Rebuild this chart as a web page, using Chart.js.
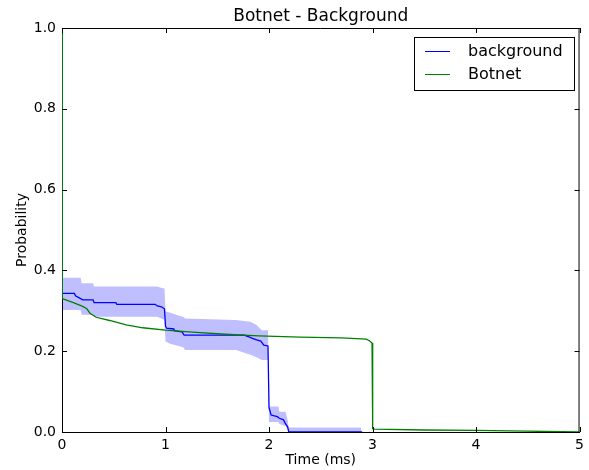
<!DOCTYPE html>
<html>
<head>
<meta charset="utf-8">
<script src="https://cdn.jsdelivr.net/npm/chart.js@4.4.0/dist/chart.umd.min.js"></script>
<style>
  html, body { margin: 0; padding: 0; background: #fff; }
  #wrap { width: 589px; height: 470px; }
</style>
</head>
<body>
<div id="wrap"><canvas id="myChart" width="589" height="470"></canvas></div>
<script>
// background series (mean line)
var bgX = [0, 0.003, 0.12, 0.13, 0.18, 0.2, 0.30, 0.31, 0.52, 0.53, 0.90, 0.92, 0.96, 0.99, 1.00, 1.01, 1.08, 1.09, 1.16, 1.18, 1.76, 1.80, 1.84, 1.88, 1.92, 1.95, 1.99, 2.00, 2.02, 2.08, 2.10, 2.14, 2.16, 2.18, 2.19, 2.9];
var bgY = [1.0, 0.343, 0.343, 0.337, 0.330, 0.327, 0.327, 0.320, 0.320, 0.316, 0.316, 0.312, 0.310, 0.305, 0.262, 0.257, 0.255, 0.250, 0.248, 0.240, 0.240, 0.236, 0.232, 0.228, 0.225, 0.215, 0.213, 0.060, 0.042, 0.038, 0.034, 0.030, 0.020, 0.013, 0.001, 0.0];

// background spread band
var bandX     = [0.003, 0.18, 0.19, 0.30, 0.31, 0.92, 0.97, 0.99, 1.00, 1.05, 1.10, 1.17, 1.19, 1.68, 1.82, 1.88, 1.93, 1.99, 2.00, 2.09, 2.10, 2.16, 2.18, 2.19, 2.89];
var bandUpper = [0.382, 0.382, 0.368, 0.368, 0.360, 0.360, 0.356, 0.356, 0.298, 0.295, 0.290, 0.285, 0.281, 0.277, 0.273, 0.265, 0.252, 0.252, 0.063, 0.063, 0.050, 0.050, 0.030, 0.011, 0.011];
var bandLower = [0.302, 0.302, 0.290, 0.290, 0.285, 0.285, 0.280, 0.278, 0.224, 0.218, 0.215, 0.210, 0.203, 0.203, 0.191, 0.185, 0.178, 0.178, 0.025, 0.025, 0.020, 0.015, 0.005, 0.0, 0.0];

// Botnet series
var botX = [0, 0.002, 0.004, 0.05, 0.11, 0.2, 0.24, 0.27, 0.33, 0.46, 0.62, 0.78, 1.0, 1.26, 1.58, 1.9, 2.3, 2.7, 2.94, 2.97, 2.995, 3.0, 3.003, 3.02, 3.5, 4.0, 4.5, 5.0];
var botY = [1.0, 0.645, 0.330, 0.326, 0.320, 0.311, 0.305, 0.294, 0.284, 0.276, 0.265, 0.258, 0.252, 0.247, 0.242, 0.238, 0.235, 0.233, 0.230, 0.226, 0.220, 0.146, 0.008, 0.007, 0.005, 0.004, 0.002, 0.0];

var xTicks = [0, 1, 2, 3, 4, 5];
var yTicks = [0.0, 0.2, 0.4, 0.6, 0.8, 1.0];

function pts(xs, ys) {
    return xs.map(function(x, i) { return {x: x, y: ys[i]}; });
}

// inward ticks on all four sides + top/right frame
var frameTicks = {
    id: 'frameTicks',
    afterDatasetsDraw: function(chart) {
        var ctx = chart.ctx, a = chart.chartArea;
        var xs = chart.scales.x, ys = chart.scales.y;
        ctx.save();
        ctx.strokeStyle = '#000';
        ctx.lineWidth = 1;
        ctx.beginPath();
        ctx.moveTo(a.left, a.top + 0.5);
        ctx.lineTo(a.right, a.top + 0.5);
        ctx.moveTo(a.right - 0.5, a.top);
        ctx.lineTo(a.right - 0.5, a.bottom);
        xTicks.forEach(function(v) {
            var px = Math.round(xs.getPixelForValue(v)) + 0.5;
            ctx.moveTo(px, a.bottom); ctx.lineTo(px, a.bottom - 5);
            ctx.moveTo(px, a.top); ctx.lineTo(px, a.top + 5);
        });
        yTicks.forEach(function(v) {
            var py = Math.round(ys.getPixelForValue(v)) + 0.5;
            ctx.moveTo(a.left, py); ctx.lineTo(a.left + 5, py);
            ctx.moveTo(a.right, py); ctx.lineTo(a.right - 5, py);
        });
        ctx.stroke();
        ctx.restore();
    }
};

// matplotlib-like legend box inside the plot
var boxLegend = {
    id: 'boxLegend',
    afterDraw: function(chart) {
        var ctx = chart.ctx;
        var items = chart.data.datasets.filter(function(d) { return d.showInLegend; });
        ctx.save();
        ctx.fillStyle = '#fff';
        ctx.fillRect(414, 37, 161, 54);
        ctx.strokeStyle = '#000';
        ctx.lineWidth = 1;
        ctx.strokeRect(414.5, 37.5, 160, 53);
        ctx.font = '16px "DejaVu Sans"';
        ctx.textBaseline = 'middle';
        items.forEach(function(d, i) {
            var y = 51.5 + i * 23;
            ctx.strokeStyle = d.borderColor;
            ctx.beginPath();
            ctx.moveTo(425, y); ctx.lineTo(450, y);
            ctx.stroke();
            ctx.fillStyle = '#000';
            ctx.fillText(d.label, 468, y);
        });
        ctx.restore();
    }
};

var ctx = document.getElementById('myChart').getContext('2d');
var myChart = new Chart(ctx, {
    type: 'line',
    data: {
        datasets: [
            {
                label: 'band upper',
                data: pts(bandX, bandUpper),
                borderWidth: 0,
                pointRadius: 0,
                backgroundColor: 'rgba(0, 0, 255, 0.25)',
                fill: '+1',
                order: 3
            },
            {
                label: 'band lower',
                data: pts(bandX, bandLower),
                borderWidth: 0,
                pointRadius: 0,
                fill: false,
                order: 3
            },
            {
                label: 'background',
                showInLegend: true,
                data: pts(bgX, bgY),
                borderColor: '#0000ff',
                borderWidth: 1.3,
                pointRadius: 0,
                fill: false,
                order: 2
            },
            {
                label: 'Botnet',
                showInLegend: true,
                data: pts(botX, botY),
                borderColor: '#008000',
                borderWidth: 1.3,
                pointRadius: 0,
                fill: false,
                order: 1
            }
        ]
    },
    options: {
        responsive: false,
        animation: false,
        layout: { padding: { top: 0, right: 6, bottom: 0, left: 0 } },
        plugins: {
            legend: { display: false },
            tooltip: { enabled: false },
            title: {
                display: true,
                fullSize: false,
                text: 'Botnet - Background',
                color: '#000',
                font: { family: 'DejaVu Sans', size: 17, weight: 'normal' },
                padding: { top: 6, bottom: 1.6 }
            }
        },
        scales: {
            x: {
                type: 'linear',
                min: 0, max: 5,
                afterFit: function(s) { s.height = 38; },
                afterBuildTicks: function(s) { s.ticks = xTicks.map(function(v) { return {value: v}; }); },
                grid: { display: false, drawTicks: false },
                border: { display: true, color: '#000', width: 1 },
                ticks: {
                    color: '#000',
                    padding: 5,
                    maxRotation: 0,
                    font: { family: 'DejaVu Sans', size: 14 },
                    callback: function(v) { return String(v); }
                },
                title: {
                    display: true,
                    text: 'Time (ms)',
                    color: '#000',
                    font: { family: 'DejaVu Sans', size: 14 },
                    padding: { top: 0, bottom: 1 }
                }
            },
            y: {
                min: 0, max: 1,
                afterFit: function(s) { s.width = 62; },
                afterBuildTicks: function(s) { s.ticks = yTicks.map(function(v) { return {value: v}; }); },
                grid: { display: false, drawTicks: false },
                border: { display: true, color: '#000', width: 1 },
                ticks: {
                    color: '#000',
                    padding: 6,
                    font: { family: 'DejaVu Sans', size: 14 },
                    callback: function(v) { return v.toFixed(1); }
                },
                title: {
                    display: true,
                    text: 'Probability',
                    color: '#000',
                    font: { family: 'DejaVu Sans', size: 14 },
                    padding: { top: 14, bottom: 0 }
                }
            }
        }
    },
    plugins: [frameTicks, boxLegend]
});
</script>
</body>
</html>
